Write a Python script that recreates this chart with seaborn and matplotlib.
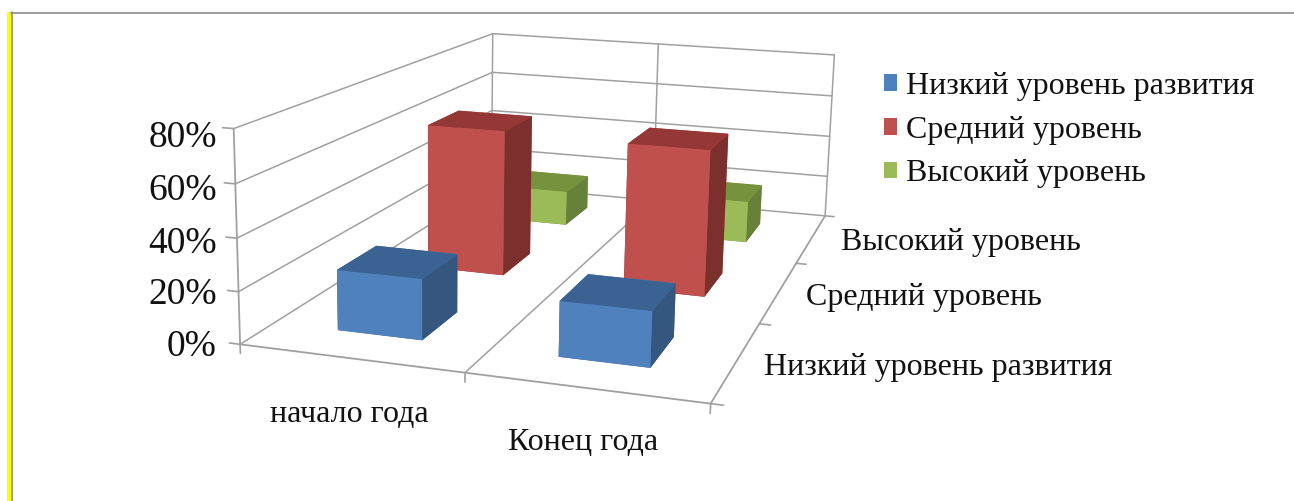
import matplotlib
matplotlib.use("Agg")
import matplotlib.pyplot as plt
from matplotlib.patches import Patch, Rectangle
from matplotlib.lines import Line2D
import seaborn as sns

# chart values
periods = ["начало года", "Конец года"]
levels = ["Низкий уровень развития", "Средний уровень", "Высокий уровень"]
low = [0.235, 0.21]
mid = [0.62, 0.61]
high = [0.16, 0.19]
z_ticks = [0, 0.2, 0.4, 0.6, 0.8]
z_labels = ["0%", "20%", "40%", "60%", "80%"]

front_cols = ["#4f81bd", "#c0504d", "#9bbb59"]
top_cols = ["#3a6293", "#953735", "#76923c"]
side_cols = ["#34567f", "#7c302d", "#67803a"]
grid_col = "#a0a0a0"

sns.set_theme(style="white")
plt.rcParams["font.family"] = ["Liberation Serif", "DejaVu Serif"]

W, H = 1294, 501
fig = plt.figure(figsize=(W / 100, H / 100), dpi=100)

# camera fitted to the corners of the reference
size = 759.5
ax = fig.add_axes([188.6 / W, -68.5 / H, size / W, size / H], projection="3d", computed_zorder=False)
ax.set_proj_type("persp", focal_length=0.3832)
ax.view_init(elev=13.065, azim=-73.528, roll=-1.202)
ax.set_box_aspect((2.0, 3.0842, 0.9164), zoom=1.0)
ax.set_xlim(0, 2)
ax.set_ylim(0, 3)
ax.set_zlim(0, 0.8)
ax.set_axis_off()
ax.patch.set_alpha(0)

# walls and floor
for z in z_ticks:
    ax.plot([0, 0, 2], [0, 3, 3], [z, z, z], color=grid_col, lw=1.1, zorder=1)
for x in [0, 1, 2]:
    ax.plot([x, x], [3, 3], [0, 0.8], color=grid_col, lw=1.1, zorder=1)
ax.plot([0, 0], [0, 0], [0, 0.8], color=grid_col, lw=1.3, zorder=1)
ax.plot([0, 2], [0, 0], [0, 0], color=grid_col, lw=1.3, zorder=1)
ax.plot([2, 2], [0, 3], [0, 0], color=grid_col, lw=1.3, zorder=1)
ax.plot([1, 1], [0, 3], [0, 0], color=grid_col, lw=1.1, zorder=1)
# tick marks
for z in z_ticks:
    ax.plot([-0.05, 0], [0, 0], [z, z], color=grid_col, lw=1.2, zorder=1)
for x in [0, 1, 2]:
    ax.plot([x, x], [0, 0], [0, -0.035], color=grid_col, lw=1.2, zorder=1)
for y in [0, 1, 2, 3]:
    ax.plot([2, 2.05], [y, y], [0, 0], color=grid_col, lw=1.2, zorder=1)

# bars, back row first
series = [low, mid, high]
bar_w = 0.39
bar_d = 0.4
order = 10
for j in [2, 1, 0]:
    for i in [0, 1]:
        colors = [top_cols[j], top_cols[j], front_cols[j], front_cols[j], side_cols[j], side_cols[j]]
        ax.bar3d(i + 0.3 - 0.005 * i, j + 0.3, 0, bar_w, bar_d, series[j][i],
                 color=colors, shade=False, edgecolor="none", zorder=order)
        order += 1


def place(x, y, s, size=23, **kw):
    fig.text(x / W, 1 - y / H, s, fontsize=size, color="#111111", va="center", **kw)


# tick labels
for y, lab in zip([347, 295, 244, 191, 138], z_labels):
    place(217, y, lab, size=27, ha="right")
place(349, 414, periods[0], ha="center")
place(583, 442, periods[1], ha="center")
place(764, 368, levels[0], ha="left")
place(806, 297, levels[1], ha="left")
place(841, 243, levels[2], ha="left")

# legend
handles = [Patch(facecolor=c, edgecolor="none") for c in front_cols]
fig.legend(handles, levels, loc="upper left", bbox_to_anchor=(884 / W, 1 - 72 / H),
           frameon=False, fontsize=23, labelspacing=0.46, handlelength=0.42,
           handleheight=0.42, handletextpad=0.27, borderpad=0, borderaxespad=0,
           labelcolor="#111111")

# outer frame with yellow stripe
fig.add_artist(Rectangle((7 / W, 0), 4 / W, 1 - 12 / H, transform=fig.transFigure, color="#ffff00", lw=0))
fig.add_artist(Line2D([11.5 / W, 11.5 / W], [0, 1 - 12 / H], transform=fig.transFigure, color="#8c8c8c", lw=1.2))
fig.add_artist(Line2D([11 / W, 1], [1 - 12.5 / H, 1 - 12.5 / H], transform=fig.transFigure, color="#8c8c8c", lw=1.2))

fig.savefig("out.png", dpi=100)
